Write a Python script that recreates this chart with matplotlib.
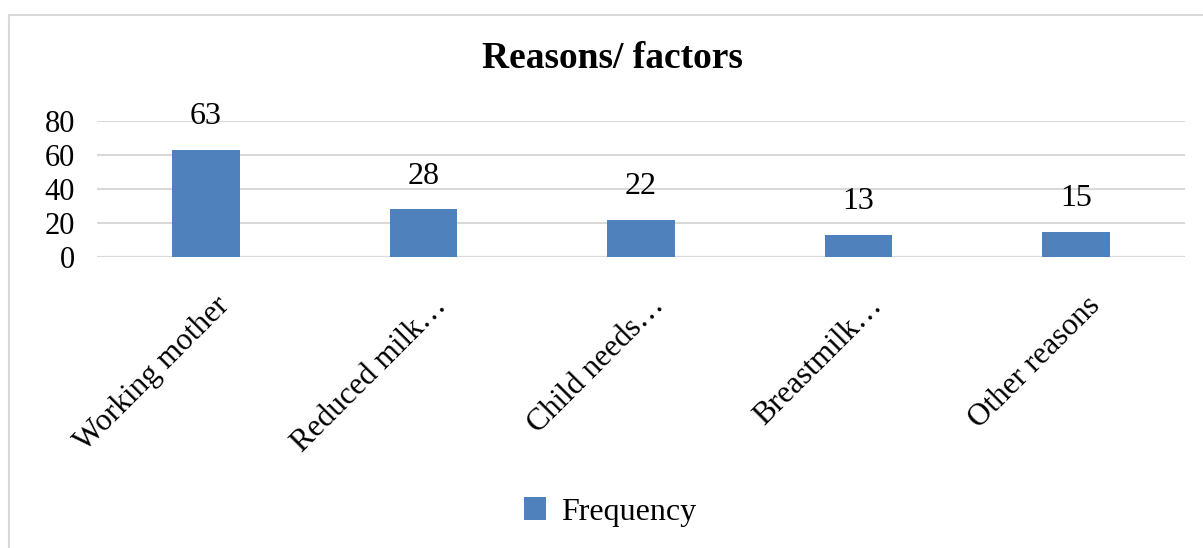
import matplotlib.pyplot as plt
from matplotlib.patches import Rectangle
from matplotlib.transforms import ScaledTranslation

categories = ["Working mother", "Reduced milk\u2026", "Child needs\u2026", "Breastmilk\u2026", "Other reasons"]
frequency = [63, 28, 22, 13, 15]
yticks = [0, 20, 40, 60, 80]

plt.rcParams['font.family'] = ['Liberation Serif', 'DejaVu Serif']

W, H = 1203, 548
fig = plt.figure(figsize=(W / 100, H / 100), dpi=100)

# chart frame
fig.patches.append(Rectangle((9 / W, -0.1), 1.2, 1 - 15 / H + 0.1, transform=fig.transFigure,
                             fill=False, edgecolor='#d9d9d9', linewidth=1.5, zorder=0))

left, right = 97 / W, 1185 / W
y0_px, y80_px = 257, 121
bottom = 1 - y0_px / H
top = 1 - y80_px / H
ax = fig.add_axes([left, bottom, right - left, top - bottom])

bar_color = '#4f81bd'
x = list(range(len(categories)))
bars = ax.bar(x, frequency, width=0.31, color=bar_color, label='Frequency', zorder=3)
ax.set_xlim(-0.5, len(categories) - 0.5)
ax.set_ylim(0, 80)
ax.set_yticks(yticks)
ax.set_yticklabels([str(t) for t in yticks], fontsize=22)
ax.yaxis.grid(True, color='#d9d9d9', linewidth=1.5, zorder=0)
ax.tick_params(axis='both', length=0)
ax.tick_params(axis='y', pad=16)
for s in ax.spines.values():
    s.set_visible(False)
ax.axhline(0, color='#d9d9d9', linewidth=1.5, zorder=2)

ax.set_xticks(x)
ax.set_xticklabels(categories, rotation=45, ha='right', va='top', rotation_mode='anchor', fontsize=22.5)
ax.tick_params(axis='x', pad=12)
shift = ScaledTranslation(9 / 100, -18 / 100, fig.dpi_scale_trans)
for lbl in ax.get_xticklabels():
    lbl.set_transform(lbl.get_transform() + shift)

for xi, v in zip(x, frequency):
    ax.annotate(str(v), (xi, v), xytext=(0, 24), textcoords='offset points',
                ha='center', va='center', fontsize=23)

fig.text(0.509, 1 - 58 / H, "Reasons/ factors", ha='center', va='center', fontsize=27, fontweight='bold')

leg = fig.legend(handles=[bars], labels=['Frequency'], loc='center', bbox_to_anchor=(0.507, 1 - 512 / H),
                 frameon=False, fontsize=23, handlelength=0.7, handleheight=0.7, handletextpad=0.45)

fig.savefig('out.png', dpi=100)
